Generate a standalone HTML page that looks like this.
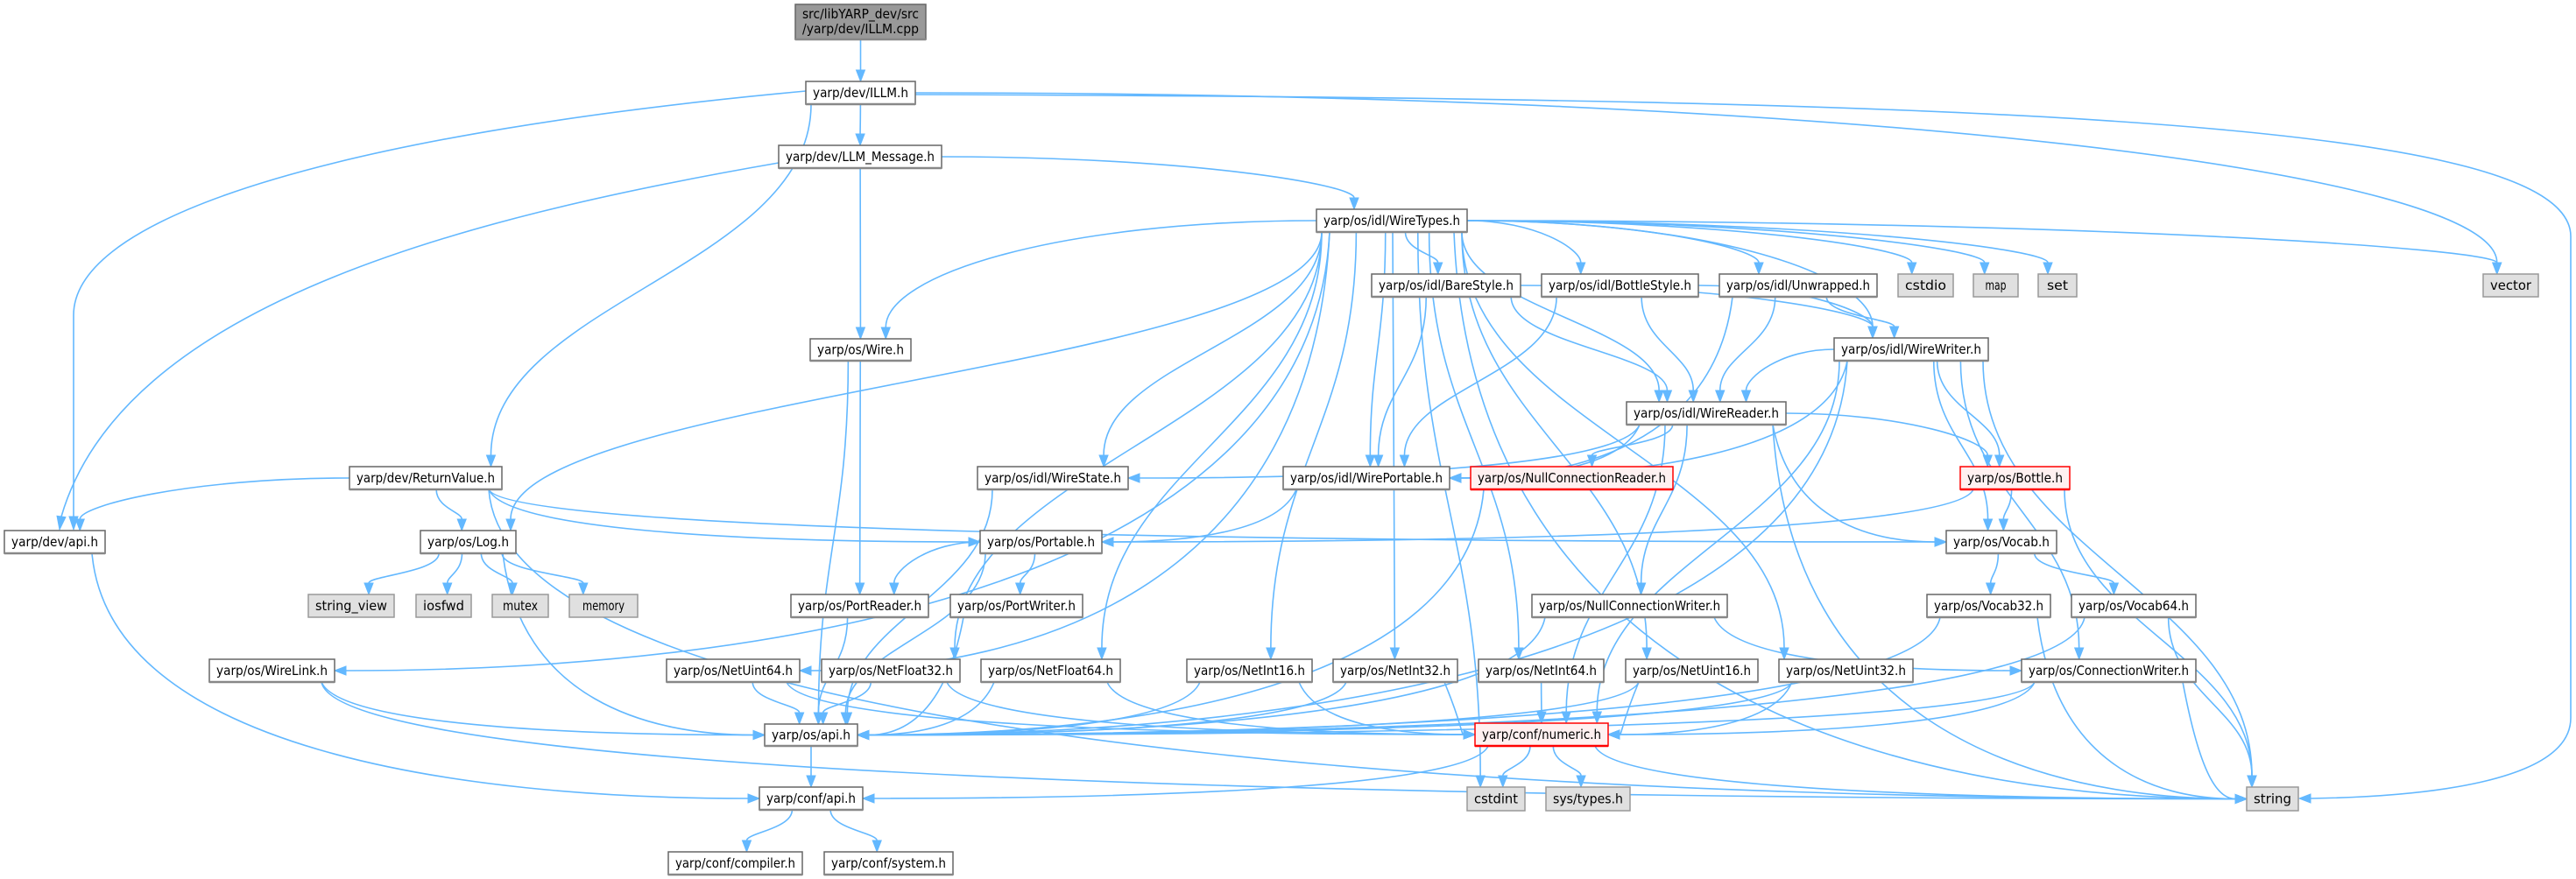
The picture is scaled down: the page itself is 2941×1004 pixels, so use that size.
<!DOCTYPE html>
<html><head><meta charset="utf-8"><style>
html,body{margin:0;padding:0;background:#fff;width:2941px;height:1004px;overflow:hidden}
svg{display:block}
text{font-family:"DejaVu Sans","Liberation Sans",sans-serif;font-size:15px;fill:#000}
</style></head><body>
<svg id="g" xmlns="http://www.w3.org/2000/svg" width="2941" height="1004" viewBox="0 0 2941 1004">
<g id="edges" fill="none" stroke="#63b8ff" stroke-width="1.6"></g>
<g id="arrows" fill="#63b8ff" stroke="#63b8ff" stroke-width="1"></g>
<g id="nodes"></g>
</svg>
<script>
var N={
cpp:[908,5,1057,45,"src/libYARP_dev/src|/yarp/dev/ILLM.cpp","c"],
illm:[920,93,1045,119,"yarp/dev/ILLM.h"],
msg:[889,166,1075,192,"yarp/dev/LLM_Message.h"],
wt:[1503,239,1675,265,"yarp/os/idl/WireTypes.h"],
bare:[1566,313,1736,339,"yarp/os/idl/BareStyle.h"],
bottles:[1760,313,1939,339,"yarp/os/idl/BottleStyle.h"],
unw:[1963,313,2143,339,"yarp/os/idl/Unwrapped.h"],
cstdio:[2167,313,2230,339,"cstdio","g"],
map:[2253,313,2304,339,"map","g"],
set:[2327,313,2371,339,"set","g"],
vector:[2835,313,2898,339,"vector","g"],
wire:[925,387,1040,412,"yarp/os/Wire.h"],
ww:[2094,386,2270,412,"yarp/os/idl/WireWriter.h"],
wr:[1857,459,2039,485,"yarp/os/idl/WireReader.h"],
rv:[399,533,573,559,"yarp/dev/ReturnValue.h"],
ws:[1116,533,1288,559,"yarp/os/idl/WireState.h"],
wp:[1465,533,1655,559,"yarp/os/idl/WirePortable.h"],
ncr:[1679,533,1910,559,"yarp/os/NullConnectionReader.h","r"],
bottle:[2238,533,2363,559,"yarp/os/Bottle.h","r"],
devapi:[5,606,120,632,"yarp/dev/api.h"],
log:[480,606,589,632,"yarp/os/Log.h"],
portable:[1119,606,1258,632,"yarp/os/Portable.h"],
vocab:[2222,606,2348,632,"yarp/os/Vocab.h"],
sv:[352,679,450,705,"string_view","g"],
iosfwd:[475,679,538,705,"iosfwd","g"],
mutex:[562,679,626,705,"mutex","g"],
memory:[650,679,728,705,"memory","g"],
pr:[903,679,1060,705,"yarp/os/PortReader.h"],
pw:[1085,679,1236,705,"yarp/os/PortWriter.h"],
ncw:[1749,679,1972,705,"yarp/os/NullConnectionWriter.h"],
v32:[2200,679,2341,705,"yarp/os/Vocab32.h"],
v64:[2365,679,2507,705,"yarp/os/Vocab64.h"],
wl:[239,753,382,779,"yarp/os/WireLink.h"],
nu64:[761,753,913,779,"yarp/os/NetUint64.h"],
nf32:[938,753,1096,779,"yarp/os/NetFloat32.h"],
nf64:[1120,753,1279,779,"yarp/os/NetFloat64.h"],
ni16:[1355,753,1498,779,"yarp/os/NetInt16.h"],
ni32:[1522,753,1664,779,"yarp/os/NetInt32.h"],
ni64:[1688,753,1831,779,"yarp/os/NetInt64.h"],
nu16:[1856,753,2007,779,"yarp/os/NetUint16.h"],
nu32:[2031,753,2184,779,"yarp/os/NetUint32.h"],
cw:[2308,753,2507,779,"yarp/os/ConnectionWriter.h"],
osapi:[873,827,979,852,"yarp/os/api.h"],
num:[1684,826,1836,852,"yarp/conf/numeric.h","r"],
confapi:[867,899,985,925,"yarp/conf/api.h"],
cstdint:[1675,899,1741,926,"cstdint","g"],
systypes:[1765,899,1861,926,"sys/types.h","g"],
string:[2565,899,2624,926,"string","g"],
compiler:[763,973,916,999,"yarp/conf/compiler.h"],
system:[941,973,1088,999,"yarp/conf/system.h"]
};
var SIDE={osapi:1,num:1,string:1,confapi:1,portable:1,vocab:1,ws:1,cw:1,nu64:1,wl:1,ni32:1,nu32:1,wp:1};
var E=[
"cpp illm","illm msg","illm rv","illm vector",
"msg wt","msg wire",
"wt bare","wt bottles","wt unw","wt cstdio","wt map","wt set","wt vector","wt string","wt ww","wt wr","wt wp","wt ws","wt wire","wt log",
"wt ni16","wt ni32","wt ni64","wt nu16","wt nu32","wt nu64","wt nf32","wt nf64","wt wl","wt cstdint",
"bare ww","bare wr","bare wp","bottles ww","bottles wr","bottles wp","unw ww","unw wr","unw wp",
"ww wr","ww wp","ww bottle","ww vocab","ww cw","ww num","ww string","ww osapi",
"wr ws","wr wp","wr ncr","wr bottle","wr vocab","wr ncw","wr num","wr string",
"wire pr","wire osapi",
"rv devapi","rv log","rv portable","rv vocab","rv string",
"devapi confapi",
"log sv","log iosfwd","log mutex","log memory","log osapi",
"portable pr","portable pw","portable osapi","pr osapi","pw osapi",
"ws osapi","wp portable","ncr osapi","ncw cw","ncw osapi",
"bottle portable","bottle vocab","bottle string",
"vocab v32","vocab v64","v32 osapi","v32 string","v64 osapi","v64 string",
"wl osapi","wl string",
"nu64 osapi","nu64 num","nf32 osapi","nf32 num","nf64 osapi","nf64 num",
"ni16 osapi","ni16 num","ni32 osapi","ni32 num","ni64 num","nu16 osapi","nu16 num","nu32 osapi","nu32 num",
"cw osapi","cw num","cw string",
"osapi confapi","confapi compiler","confapi system",
"num confapi","num cstdint","num systypes","num string"
];
var CUSTOM=[
{d:"M1045,108 C2300,112 2935,140 2935,270 L2935,820 C2935,895 2760,910 2638,912",tip:[2625,912]},
{d:"M920,104 C420,150 84,240 84,360 L84,590",tip:[84,605]},
{d:"M889,186 C520,250 140,350 70,590",tip:[68,605]}
];
var NS="http://www.w3.org/2000/svg";
function el(t,a,p){var e=document.createElementNS(NS,t);for(var k in a)e.setAttribute(k,a[k]);p.appendChild(e);return e;}
var ge=document.getElementById("edges"),ga=document.getElementById("arrows"),gn=document.getElementById("nodes");
function cl(v,a,b){return Math.max(a,Math.min(b,v));}
function arrow(bx,by,ex,ey){
 var dx=ex-bx,dy=ey-by,L=Math.sqrt(dx*dx+dy*dy)||1;dx/=L;dy/=L;var hw=5;
 el("polygon",{points:ex+","+ey+" "+(bx-dy*hw)+","+(by+dx*hw)+" "+(bx+dy*hw)+","+(by-dx*hw)},ga);
}
E.forEach(function(s){
 var p=s.split(" "),a=N[p[0]],b=N[p[1]];
 var acx=(a[0]+a[2])/2,bcx=(b[0]+b[2])/2;
 var sx,sy,ex,ey,c1x,c1y,c2x,c2y;
 var dy=b[1]-a[3],dir=bcx>acx?1:-1,wd=Math.abs(bcx-acx);
 var apart=dir>0?b[0]>a[2]:b[2]<a[0];
 if(dy>4){
  if(SIDE[p[1]] && wd>1.5*dy && apart){
   sx=dir>0?a[2]-15:a[0]+15;sy=a[3];
   ex=dir>0?b[0]:b[2];ey=(b[1]+b[3])/2;
   c1x=sx+dir*20;c1y=sy+(ey-sy)*0.8;c2x=ex-dir*Math.abs(ex-sx)*0.45;c2y=ey;
  }else if(wd>4*dy && apart){
   sx=dir>0?a[2]:a[0];sy=(a[1]+a[3])/2;
   ex=cl(bcx-dir*(b[2]-b[0])*0.25,b[0]+6,b[2]-6);ey=b[1];
   c1x=sx+(ex-sx)*0.6;c1y=sy;c2x=ex;c2y=ey-dy*0.6;
  }else{
   sx=cl(acx+(bcx-acx)*0.25,a[0]+6,a[2]-6);sy=a[3];
   ex=cl(bcx+(acx-bcx)*0.15,b[0]+6,b[2]-6);ey=b[1];
   c1x=sx;c1y=sy+dy*0.45;c2x=ex;c2y=ey-dy*0.45;
  }
 }else{
  sy=(a[1]+a[3])/2;ey=(b[1]+b[3])/2;
  if(dir>0){sx=a[2];ex=b[0];}else{sx=a[0];ex=b[2];}
  c1x=(sx+ex)/2;c1y=sy;c2x=(sx+ex)/2;c2y=ey;
 }
 var dx=ex-c2x,dyy=ey-c2y,L=Math.sqrt(dx*dx+dyy*dyy)||1;dx/=L;dyy/=L;
 var bx=ex-dx*13,by=ey-dyy*13;
 el("path",{d:"M"+sx+","+sy+" C"+c1x+","+c1y+" "+c2x+","+c2y+" "+bx+","+by},ge);
 arrow(bx,by,ex,ey);
});
CUSTOM.forEach(function(c){
 el("path",{d:c.d},ge);
 var m=c.d.match(/(-?[\d.]+),(-?[\d.]+)\s*$/);
 arrow(+m[1],+m[2],c.tip[0],c.tip[1]);
});
for(var k in N){
 var n=N[k],t=n[5]||"",w=n[2]-n[0],h=n[3]-n[1];
 var fill=t=="c"?"#999999":t=="g"?"#e0e0e0":t=="r"?"#fff0f0":"#ffffff";
 var st=t=="r"?"#ff0000":t=="g"?"#999999":"#666666";
 el("rect",{x:n[0],y:n[1],width:w,height:h,fill:fill,stroke:st,"stroke-width":1.5},gn);
 if(t!="g") el("line",{x1:n[0],y1:n[3],x2:n[2],y2:n[3],stroke:t=="r"?"#ff0000":"#888","stroke-width":2.5},gn);
 var lines=n[4].split("|"),cx=(n[0]+n[2])/2;
 lines.forEach(function(L,i){
  var y=lines.length==1?(n[1]+n[3])/2+5:n[1]+16+i*17;
  var tx=el("text",{x:cx,y:y,"text-anchor":"middle"},gn);
  var tl=Math.min(w-16,L.length*8);
  tx.setAttribute("textLength",tl);tx.setAttribute("lengthAdjust","spacingAndGlyphs");
  tx.textContent=L;
 });
}
</script>
</body></html>
